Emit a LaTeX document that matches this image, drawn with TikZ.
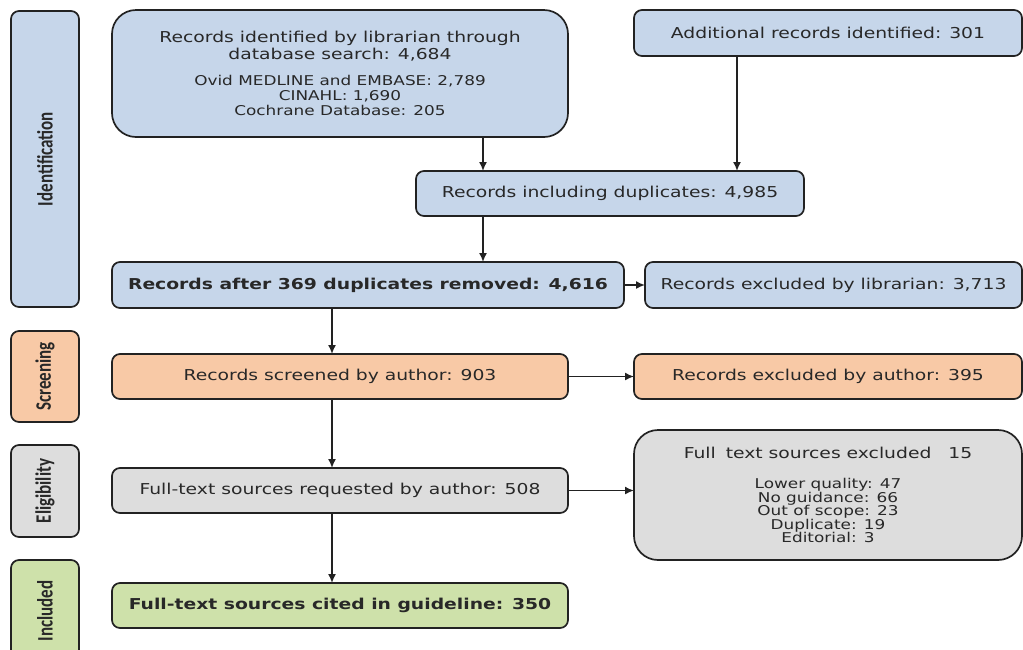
\documentclass[tikz,border=0pt]{standalone}
\usepackage{fontspec}
\usepackage{graphicx}
\newfontfamily\boxfont[FakeStretch=1.25]{DejaVu Sans}
\newfontfamily\sidefont{Carlito}
\usetikzlibrary{arrows.meta, positioning, calc}

\definecolor{idblue}{RGB}{198,214,234}
\definecolor{scrorange}{RGB}{248,201,166}
\definecolor{eliggray}{RGB}{221,221,221}
\definecolor{inclgreen}{RGB}{206,225,170}
\definecolor{edge}{RGB}{34,34,34}
\definecolor{ink}{RGB}{40,40,40}

\newcommand{\subtext}{\fontsize{13.5}{13.5}\selectfont}

\begin{document}
\begin{tikzpicture}[x=1pt, y=-1pt,
      box/.style={rectangle, draw=edge, line width=1.7pt, rounded corners=8pt, inner sep=0pt, outer sep=0pt, align=center, text=ink, font=\boxfont\fontsize{15}{15}\selectfont},
      bigbox/.style={box, rounded corners=24pt},
      phase/.style={rectangle, draw=edge, line width=1.7pt, rounded corners=8pt, rotate=90, minimum height=68pt, inner sep=0pt, text=ink, font=\sidefont\bfseries\fontsize{17}{17}\selectfont},
      arrow/.style={-{Latex[length=9pt,width=8pt]}, line width=1.6pt, draw=edge}
    ]
    \useasboundingbox (0,0) rectangle (1023,649);

    \node[phase, fill=idblue, minimum width=296pt] (phId) at (45,159) {\scalebox{1}[1.3]{Identification}};
    \node[phase, fill=scrorange, minimum width=91pt] (phScr) at (45,376.5) {\scalebox{1}[1.3]{Screening}};
    \node[phase, fill=eliggray, minimum width=92pt] (phElig) at (45,491) {\scalebox{1}[1.3]{Eligibility}};
    \node[phase, fill=inclgreen, minimum width=102pt] (phIncl) at (45,611) {\scalebox{1}[1.3]{Included}};

    \node[bigbox, fill=idblue, minimum width=456pt, minimum height=127pt, anchor=north west] (libr) at (112,10)
      {Records identified by librarian through\\[1.3pt] database search: 4,684\\[11pt]
       \subtext Ovid MEDLINE and EMBASE: 2,789\\ \subtext CINAHL: 1,690\\ \subtext Cochrane Database: 205};
    \node[box, fill=idblue, minimum width=388pt, minimum height=46pt, anchor=north west] (addl) at (634,10) {Additional records identified: 301};
    \node[box, fill=idblue, minimum width=388pt, minimum height=45pt, anchor=north west] (dupl) at (416,171) {Records including duplicates: 4,985};
    \node[box, fill=idblue, minimum width=512pt, minimum height=46pt, below right=125pt and 0pt of libr.south west] (after) {\bfseries Records after 369 duplicates removed: 4,616};
    \node[box, fill=idblue, minimum width=377pt, minimum height=46pt, right=21pt of after] (exclib) {Records excluded by librarian: 3,713};

    \node[box, fill=scrorange, minimum width=456pt, minimum height=45pt, below right=46pt and 0pt of after.south west] (scr) {Records screened by author: 903};
    \node[box, fill=scrorange, minimum width=388pt, minimum height=45pt, right=66pt of scr] (excaut) {Records excluded by author: 395};

    \node[box, fill=eliggray, minimum width=456pt, minimum height=45pt, below right=69pt and 0pt of scr.south west] (req) {Full-text sources requested by author: 508};
    \node[bigbox, fill=eliggray, minimum width=388pt, minimum height=130pt, right=66pt of req, yshift=-4.5pt, font=\boxfont\fontsize{15}{13.5}\selectfont] (excft)
      {Full\hspace{4pt} text sources excluded\hspace{11pt} 15\\[16.5pt]
       \subtext Lower quality: 47\\ \subtext No guidance: 66\\ \subtext Out of scope: 23\\ \subtext Duplicate: 19\\ \subtext Editorial: 3};

    \node[box, fill=inclgreen, minimum width=456pt, minimum height=45pt, below right=70pt and 0pt of req.south west] (incl) {\bfseries Full-text sources cited in guideline: 350};

    \coordinate (colA) at (483,0);
    \coordinate (colB) at (737,0);
    \coordinate (colM) at (332,0);

    \draw[arrow] (libr.south -| colA) -- (dupl.north -| colA);
    \draw[arrow] (addl.south -| colB) -- (dupl.north -| colB);
    \draw[arrow] (dupl.south -| colA) -- (after.north -| colA);
    \draw[arrow] (after.east) -- (exclib.west);
    \draw[arrow] (after.south -| colM) -- (scr.north -| colM);
    \draw[arrow] (scr.east) -- (excaut.west);
    \draw[arrow] (scr.south -| colM) -- (req.north -| colM);
    \draw[arrow] (req.east) -- (req.east -| excft.west);
    \draw[arrow] (req.south -| colM) -- (incl.north -| colM);
  \end{tikzpicture}
\end{document}
